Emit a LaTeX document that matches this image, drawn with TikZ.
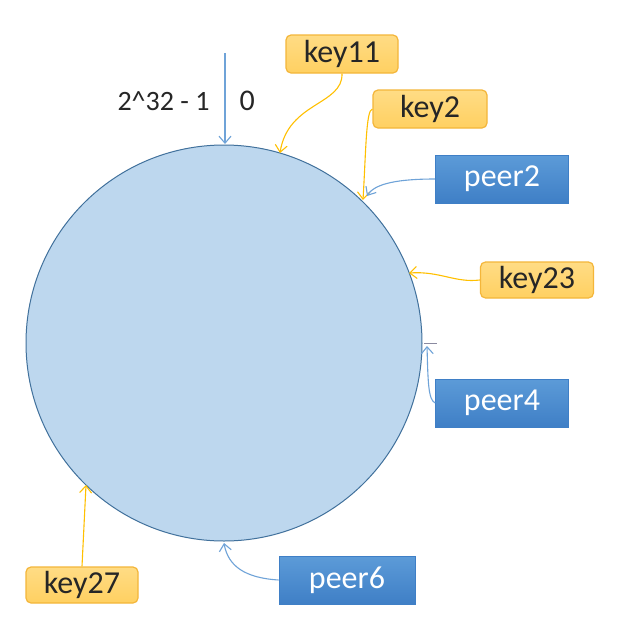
\documentclass[tikz,border=0pt]{standalone}
\usepackage{fontspec}
\setmainfont{Carlito}
\usetikzlibrary{arrows.meta}
\definecolor{ringfill}{HTML}{BDD7EE}
\definecolor{ringline}{HTML}{41719C}
\definecolor{keyfill}{HTML}{FFD061}
\definecolor{keytop}{HTML}{FFDC85}
\definecolor{keyline}{HTML}{F4B63A}
\definecolor{keyarrow}{HTML}{FFC000}
\definecolor{peertop}{HTML}{5C9BD8}
\definecolor{peerbot}{HTML}{3F7FC6}
\definecolor{peerarrow}{HTML}{6FA3D8}
\definecolor{ticky}{HTML}{8A8AA0}
\tikzset{
  txt/.style={font=\fontsize{28}{32}\selectfont, text=black!85},
  boxtxt/.style={font=\fontsize{32}{36}\selectfont},
  keybox/.style={boxtxt, text=black!85, draw=keyline, line width=1.2pt, rounded corners=5pt,
    top color=keytop, bottom color=keyfill, minimum height=38pt, inner sep=0pt},
  peerbox/.style={boxtxt, text=white, draw=peerbot, line width=0.6pt,
    top color=peertop, bottom color=peerbot, minimum height=48pt, minimum width=133pt, inner sep=0pt},
  keyline/.style={draw=keyarrow, line width=1.1pt, -{Straight Barb[length=7pt,width=12pt]}},
  peerline/.style={draw=peerarrow, line width=1.1pt, -{Straight Barb[length=7pt,width=12pt]}},
}
\begin{document}
\begin{tikzpicture}[x=1pt,y=-1pt]
\useasboundingbox[fill=white] (0,0) rectangle (624,638);
% ring
\node[circle, draw=ringline, fill=ringfill, line width=1pt, minimum size=396pt, inner sep=0pt] (ring) at (224,343) {};
% zero marker
\coordinate (ztop) at (225,53);
\coordinate (zbot) at (225,144);
\draw[peerline] (ztop) -- (zbot);
\node[txt, anchor=east] (maxlab) at (213,101) {2\^{}32 - 1};
\node[txt, anchor=west, font=\fontsize{30}{34}\selectfont] (zerolab) at (236,101) {0};
% boxes
\node[keybox, minimum width=112pt] (key11) at (342,54) {key11};
\node[keybox, minimum width=114pt] (key2) at (430,109) {key2};
\node[peerbox] (peer2) at (502,179) {peer2};
\node[keybox, minimum width=113pt, minimum height=36pt] (key23) at (537,280) {key23};
\node[peerbox] (peer4) at (502,403) {peer4};
\node[peerbox, minimum width=136pt] (peer6) at (347,580) {peer6};
\node[keybox, minimum width=112pt, minimum height=36pt] (key27) at (82,585) {key27};
% targets on ring
\coordinate (c11) at (280,153);
\coordinate (c2) at (363,200);
\coordinate (cp2) at (367,196);
\coordinate (c23) at (409,273);
\coordinate (cp4) at (427,346);
\coordinate (cp6) at (224,543);
\coordinate (c27) at (86,485);
\coordinate (tick1) at (424,343);
\coordinate (tick2) at (437,343);
% connectors
\draw[keyline] (key11.south) .. controls (343,105) and (288,102) .. (c11);
\draw[keyline] (key2.west) .. controls (366,110) and (366,150) .. (c2);
\draw[peerline] (peer2.west) .. controls (400,179) and (375,183) .. (cp2);
\draw[keyline] (key23.west) .. controls (455,283) and (440,271) .. (c23);
\draw[peerline] (peer4.west) .. controls (428,400) and (428,380) .. (cp4);
\draw[ticky, line width=1pt] (tick1) -- (tick2);
\draw[peerline] (peer6.west) .. controls (245,578) and (228,566) .. (cp6);
\draw[keyline] (key27.north) -- (c27);
\end{tikzpicture}
\end{document}
